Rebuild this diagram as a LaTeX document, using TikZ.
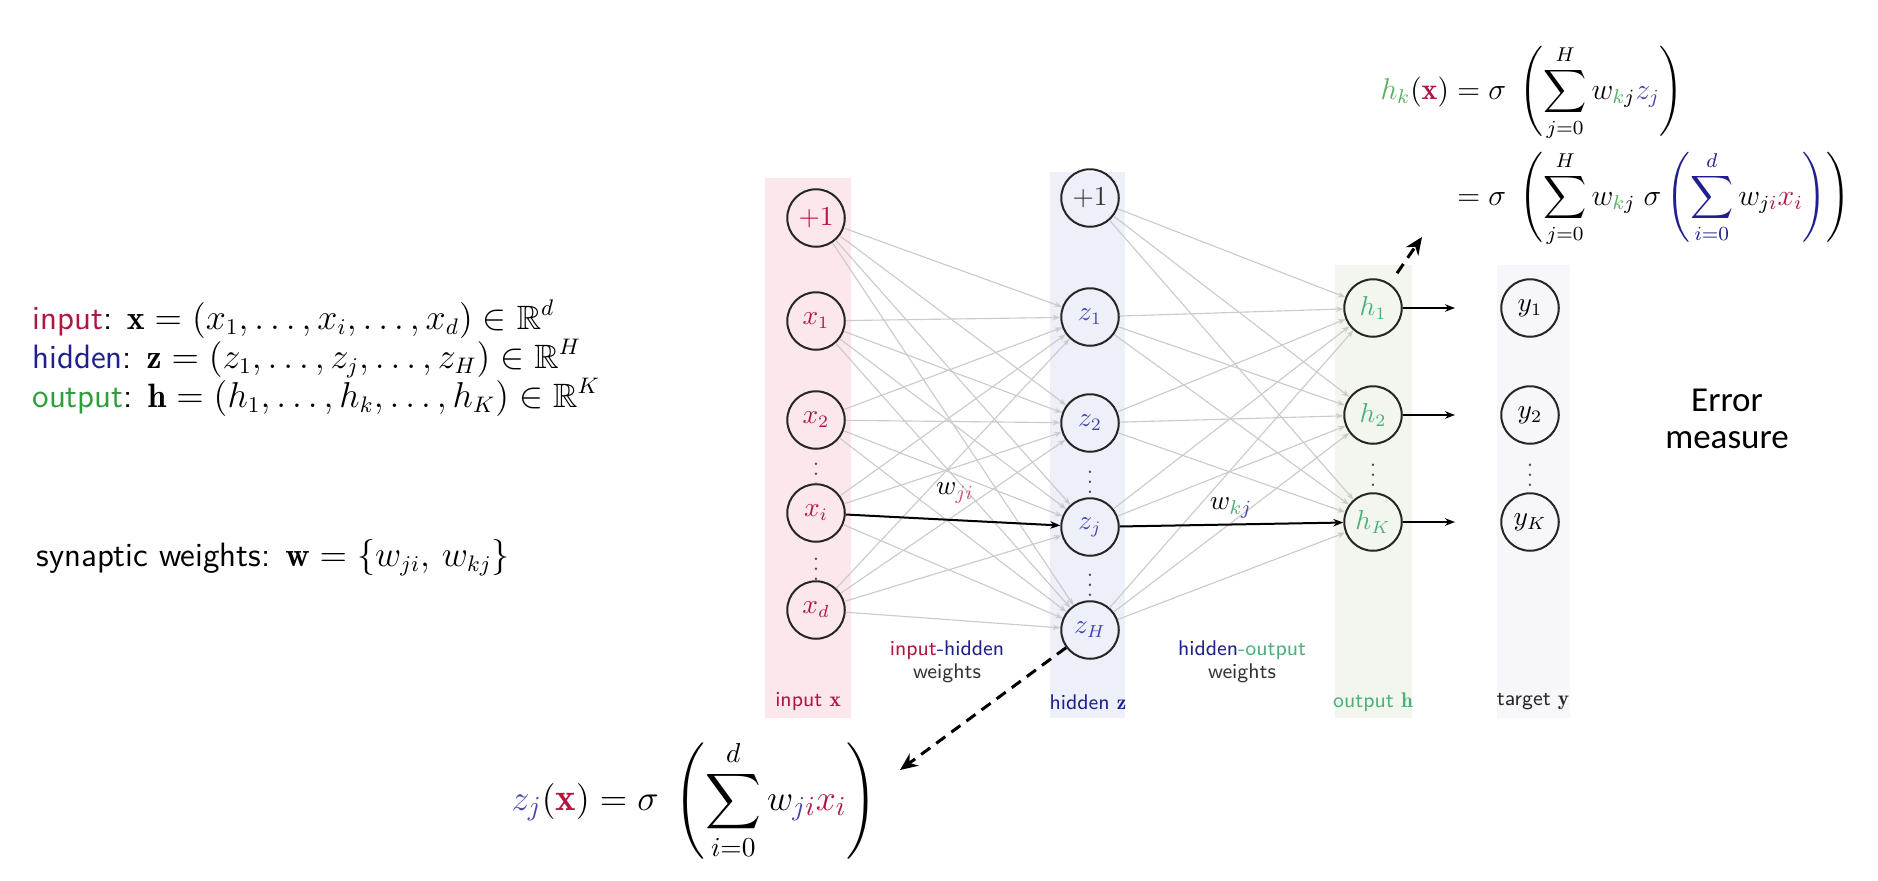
\documentclass[tikz,border=0pt]{standalone}
\usepackage{amsmath,amssymb}
\usepackage{fontspec}
\newfontfamily\calib{Carlito}
\usetikzlibrary{arrows.meta}
\definecolor{cin}{HTML}{B0163F}
\definecolor{chid}{HTML}{1F1F8F}
\definecolor{zcol}{HTML}{4545B0}
\definecolor{cout}{HTML}{2E9E3A}
\definecolor{cgreen}{HTML}{4DB07A}
\definecolor{bin}{HTML}{FBE7EC}
\definecolor{bhid}{HTML}{EDEFF9}
\definecolor{bout}{HTML}{F3F6EE}
\definecolor{btar}{HTML}{F7F6FA}
\definecolor{edgegray}{HTML}{CBCBCB}
\begin{document}
\begin{tikzpicture}[x=0.4pt,y=-0.4pt,
  neuron/.style={circle,draw=black!85,line width=0.8pt,minimum size=23pt,inner sep=0pt,font=\fontsize{10.5}{12}\selectfont},
  gedge/.style={draw=edgegray,line width=0.45pt,-{Stealth[length=3pt,width=2.2pt]}},
  bedge/.style={draw=black,line width=0.8pt,-{Stealth[length=4pt,width=3pt]}},
  dasharrow/.style={draw=black,line width=1.2pt,dash pattern=on 4.5pt off 3pt,-{Stealth[length=7pt,width=6pt]}},
  lbl/.style={font=\sffamily\fontsize{8.5}{10}\selectfont,inner sep=0pt},
  dotsn/.style={font=\fontsize{9}{10}\selectfont,inner sep=0pt,text=black!70},
  lefttxt/.style={anchor=base west,inner sep=0pt,font=\fontsize{13.5}{16}\selectfont},
]
\useasboundingbox[fill=white] (0,0) rectangle (1878,880);

% bands
\fill[bin]  (765,178) rectangle (851,718);
\fill[bhid] (1050,172) rectangle (1125,718);
\fill[bout] (1335,265) rectangle (1412,718);
\fill[btar] (1497,265) rectangle (1570,718);

% input nodes
\node[neuron] (i0) at (816,218) {$\color{cin}+1$};
\node[neuron] (i1) at (816,321) {$\color{cin}x_1$};
\node[neuron] (i2) at (816,420) {$\color{cin}x_2$};
\node[neuron] (i3) at (816,513) {$\color{cin}x_i$};
\node[neuron] (i4) at (816,610) {$\color{cin}x_d$};
\node[dotsn] (di1) at (816,467) {$\vdots$};
\node[dotsn] (di2) at (816,562) {$\vdots$};

% hidden nodes
\node[neuron] (h0) at (1090,198) {$\color{black!80}+1$};
\node[neuron] (h1) at (1090,317) {$\color{zcol}z_1$};
\node[neuron] (h2) at (1090,423) {$\color{zcol}z_2$};
\node[neuron] (h3) at (1090,527) {$\color{zcol}z_j$};
\node[neuron] (h4) at (1090,630) {$\color{zcol}z_H$};
\node[dotsn] (dh1) at (1090,475) {$\vdots$};
\node[dotsn] (dh2) at (1090,578) {$\vdots$};

% output nodes
\node[neuron] (o1) at (1373,308) {$\color{cgreen}h_1$};
\node[neuron] (o2) at (1373,415) {$\color{cgreen}h_2$};
\node[neuron] (o3) at (1373,522) {$\color{cgreen}h_K$};
\node[dotsn] (do) at (1373,468) {$\vdots$};

% target nodes
\node[neuron] (t1) at (1530,308) {$y_1$};
\node[neuron] (t2) at (1530,415) {$y_2$};
\node[neuron] (t3) at (1530,522) {$y_K$};
\node[dotsn] (dt) at (1530,468) {$\vdots$};

% input -> hidden
\foreach \a in {i0,i1,i2,i3,i4}{
  \foreach \b in {h1,h2,h3,h4}{
    \draw[gedge] (\a) -- (\b);
  }
}
\draw[bedge] (i3) -- (h3);
% hidden -> output
\foreach \a in {h0,h1,h2,h3,h4}{
  \foreach \b in {o1,o2,o3}{
    \draw[gedge] (\a) -- (\b);
  }
}
\draw[bedge] (h3) -- (o3);

% output arrows
\coordinate (e1) at (1455,308);
\coordinate (e2) at (1455,415);
\coordinate (e3) at (1455,522);
\draw[bedge] (o1) -- (e1);
\draw[bedge] (o2) -- (e2);
\draw[bedge] (o3) -- (e3);

% weight labels
\node[font=\fontsize{11}{12}\selectfont,inner sep=0pt] (wji) at (955,493) {$w_{\color{cin!70}ji}$};
\node[font=\fontsize{11}{12}\selectfont,inner sep=0pt] (wkj) at (1231,508) {$w_{{\color{cgreen}k}{\color{zcol}j}}$};

% band labels
\node[lbl,text=cin] (lin) at (808,702) {input $\mathbf{x}$};
\node[lbl,text=chid] (lhid) at (1088,702) {hidden $\mathbf{z}$};
\node[lbl,text=cgreen] (lout) at (1373,702) {output $\mathbf{h}$};
\node[lbl,text=black!85] (ltar) at (1533,702) {target $\mathbf{y}$};
\node[lbl] (ihw) at (947,650) {\textcolor{cin}{input}\textcolor{chid}{-hidden}};
\node[lbl,text=black!80] (ihw2) at (947,673) {weights};
\node[lbl] (how) at (1242,650) {\textcolor{chid}{hidden}\textcolor{cgreen}{-output}};
\node[lbl,text=black!80] (how2) at (1242,673) {weights};

% left text
\node[lefttxt] (lt1) at (32,329) {\sffamily\textcolor{cin}{input}: $\mathbf{x}=(x_1,\ldots,x_i,\ldots,x_d)\in\mathbb{R}^d$};
\node[lefttxt] (lt2) at (32,368) {\sffamily\textcolor{chid}{hidden}: $\mathbf{z}=(z_1,\ldots,z_j,\ldots,z_H)\in\mathbb{R}^H$};
\node[lefttxt] (lt3) at (32,407) {\sffamily\textcolor{cout}{output}: $\mathbf{h}=(h_1,\ldots,h_k,\ldots,h_K)\in\mathbb{R}^K$};
\node[lefttxt] (lt4) at (36,566) {\sffamily synaptic weights: $\mathbf{w}=\{w_{ji},\,w_{kj}\}$};

% Error measure
\node[font=\calib\fontsize{14}{15}\selectfont,align=center,inner sep=0pt] (err) at (1727,419) {Error\\measure};

% top formula
\node[anchor=west,inner sep=0pt,font=\fontsize{12}{14}\selectfont] (ftop) at (1380,146) {$\begin{aligned}
{\color{cout!80}h_k}({\color{cin}\mathbf{x}}) &= \sigma\;\left(\sum_{j=0}^{H} w_{{\color{cout!80}k}j}{\color{zcol}z_j}\right)\\
&= \sigma\;\left(\sum_{j=0}^{H} w_{{\color{cout!80}k}j}\;\sigma\,{\color{chid}\left(\sum_{i=0}^{d}{\color{black}w_{j{\color{cin}i}}}{\color{cin}x_i}\right)}\right)
\end{aligned}$};

% bottom formula
\node[anchor=west,inner sep=0pt,font=\fontsize{15.5}{18}\selectfont] (fbot) at (511,800) {$\displaystyle {\color{zcol}z_j}({\color{cin}\mathbf{x}}) = \sigma\;\left(\sum_{i=0}^{d} w_{{\color{zcol}j}{\color{cin}i}}{\color{cin}x_i}\right)$};

% dashed arrows
\coordinate (tipb) at (900,770);
\coordinate (tipt) at (1422,237);
\draw[dasharrow] (h4) -- (tipb);
\draw[dasharrow,shorten <=5pt] (o1) -- (tipt);
\end{tikzpicture}
\end{document}
